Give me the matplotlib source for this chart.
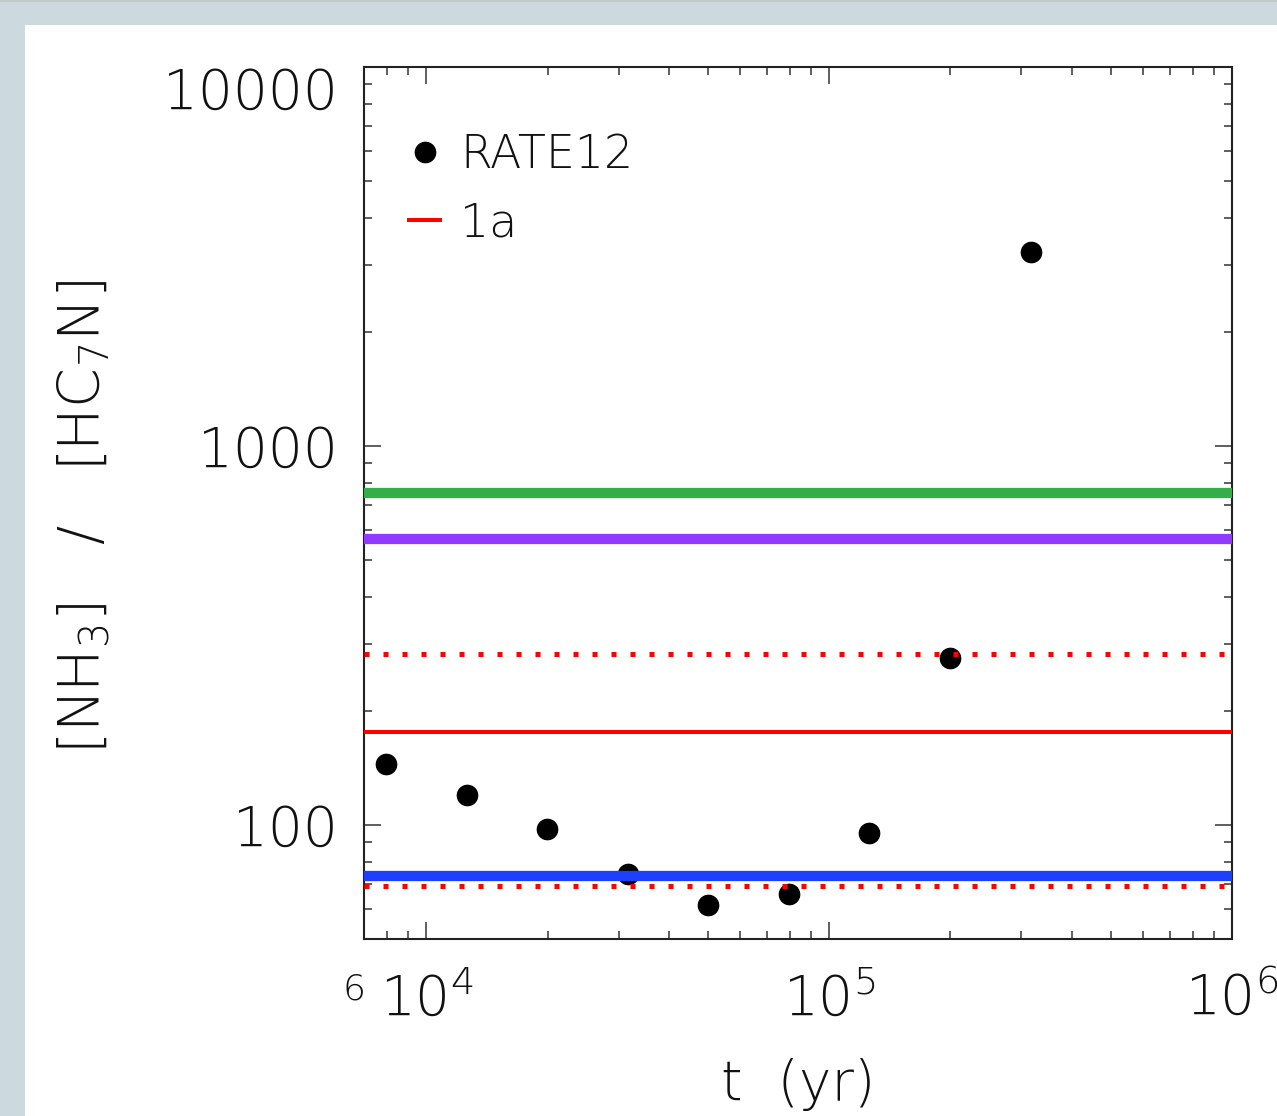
import matplotlib
matplotlib.use("Agg")
import matplotlib.pyplot as plt
from matplotlib.patches import Rectangle
from matplotlib.ticker import LogLocator, NullFormatter

plt.rcParams['font.family'] = ['DejaVu Sans']
plt.rcParams['font.weight'] = 200
plt.rcParams['axes.labelweight'] = 200
plt.rcParams['mathtext.default'] = 'regular'

# ---- data ----
times_yr = [7943, 12589, 19953, 31623, 50119, 79433, 125893, 199526, 316228]
ratio_rate12 = [144.5, 119.9, 97.5, 74.0, 61.4, 65.9, 95.4, 275.0, 3240.0]

level_values = [750.0, 567.0, 283.0, 175.8, 73.3, 68.9]
level_names = ['green', 'purple', 'red_dot_hi', '1a', 'blue', 'red_dot_lo']

x_ticks = [1e4, 1e5, 1e6]
x_tick_labels = ['$10^4$', '$10^5$', '$10^6$']
y_ticks = [100, 1000, 10000]
y_tick_labels = ['100', '1000', '10000']

# styles
level_styles = {
    'green':      dict(color='#33AE48', lw=7.4, ls='-'),
    'purple':     dict(color='#9139FF', lw=7.4, ls='-'),
    'red_dot_hi': dict(color='#FF0000', lw=3.6, ls=(0, (1, 2.8))),
    '1a':         dict(color='#FF0000', lw=2.9, ls='-'),
    'blue':       dict(color='#1F3FFF', lw=7.4, ls='-'),
    'red_dot_lo': dict(color='#FF0000', lw=3.6, ls=(0, (1, 2.8))),
}
TXT = '#111111'
FS = 39.5

W, H = 1277, 1116
fig = plt.figure(figsize=(W / 100, H / 100), dpi=100)
fig.patch.set_facecolor('#CCDADF')
fig.add_artist(Rectangle((25 / W, 0), 1 - 25 / W, 1 - 25 / H, transform=fig.transFigure,
                         facecolor='white', edgecolor='none', zorder=-10))
fig.add_artist(Rectangle((0, 1 - 2 / H), 1, 2 / H, transform=fig.transFigure,
                         facecolor='#C4C9CB', edgecolor='none', zorder=-9))

ax = fig.add_axes([364 / W, 1 - 939 / H, (1232 - 364) / W, (939 - 67) / H])
ax.set_xscale('log')
ax.set_yscale('log')
ax.set_xlim(7000, 1e6)
ax.set_ylim(50, 10000)

pts, = ax.plot(times_yr, ratio_rate12, 'o', color='black', ms=14.6, ls='none',
               zorder=2, label='RATE12')

handles = {}
for name, v in zip(level_names, level_values):
    st = level_styles[name]
    ln = ax.axhline(v, color=st['color'], lw=st['lw'], ls=st['ls'],
                    dash_capstyle='butt', solid_capstyle='butt', zorder=3,
                    label=name)
    handles[name] = ln

ax.set_xticks(x_ticks, labels=x_tick_labels)
ax.set_yticks(y_ticks, labels=y_tick_labels)
ax.xaxis.set_minor_locator(LogLocator(base=10, subs=range(2, 10)))
ax.yaxis.set_minor_locator(LogLocator(base=10, subs=range(2, 10)))
ax.xaxis.set_minor_formatter(NullFormatter())
ax.yaxis.set_minor_formatter(NullFormatter())

ax.tick_params(which='both', direction='in', top=True, right=True, colors='#333333')
ax.tick_params(which='major', length=12, width=1.1)
ax.tick_params(which='minor', length=6, width=1.1)
ax.tick_params(axis='x', which='major', labelsize=FS, pad=24, labelcolor=TXT)
ax.tick_params(axis='y', which='major', labelsize=FS, pad=18.5, labelcolor=TXT)
for sp in ax.spines.values():
    sp.set_linewidth(1.5)
    sp.set_color('#222222')

for lab in ax.get_yticklabels():
    if lab.get_text() == '10000':
        lab.set_verticalalignment('top')
    else:
        lab.set_verticalalignment('center_baseline')

ax.text(-0.011, -0.038, '6', transform=ax.transAxes, fontsize=26, ha='center',
        va='top', color=TXT)

ax.set_xlabel('t  (yr)', fontsize=FS, va='baseline', color=TXT)
ax.xaxis.set_label_coords(0.5, -0.1846)
ax.set_ylabel('[NH$_3$]   /   [HC$_7$N]', fontsize=41, va='center', ha='center',
              rotation_mode='default', color=TXT)
ax.yaxis.set_label_coords(-0.3225, 0.484)

leg = ax.legend([pts, handles['1a']], ['RATE12', '1a'], loc='upper left',
                bbox_to_anchor=(0.05, 0.924), frameon=False, fontsize=33,
                handlelength=0.75, handletextpad=0.4, borderaxespad=0, borderpad=0,
                labelspacing=0.52, numpoints=1)
for t in leg.get_texts():
    t.set_color(TXT)

fig.savefig('out.png', dpi=100, facecolor=fig.get_facecolor())
